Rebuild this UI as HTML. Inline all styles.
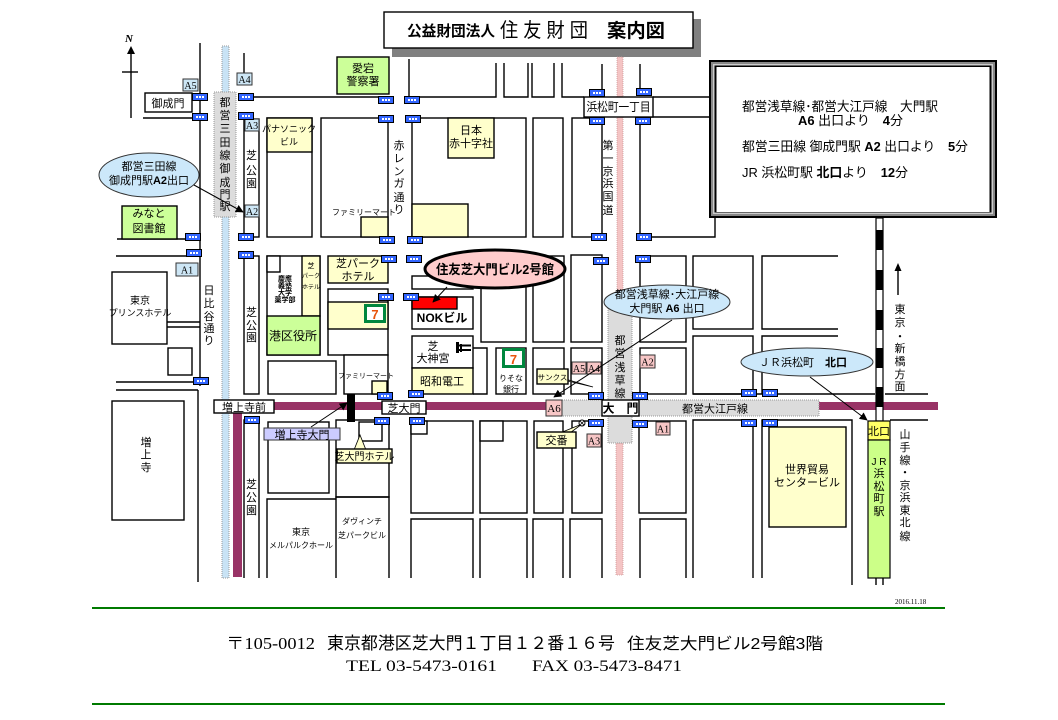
<!DOCTYPE html>
<html><head><meta charset="utf-8"><style>
html,body{margin:0;padding:0;background:#fff;}
svg{display:block;}
text{font-family:"Liberation Sans","Noto Sans CJK JP",sans-serif;fill:#000;}
.s{font-family:"Liberation Serif","Noto Serif CJK SC",serif;}
.b{fill:#fff;stroke:#000;stroke-width:1.4;}
.y{fill:#ffffcc;stroke:#000;stroke-width:1.4;}
.g{fill:#ccff99;stroke:#000;stroke-width:1.4;}
.l{stroke:#000;stroke-width:1.4;fill:none;}
.am{fill:#cde6f5;stroke:#333;stroke-width:1;}
.aa{fill:#f7c6c6;stroke:#333;stroke-width:1;}
</style></head><body>
<svg width="1058" height="720" viewBox="0 0 1058 720" xmlns="http://www.w3.org/2000/svg">
<defs>
<marker id="ah" viewBox="0 0 10 10" refX="9" refY="5" markerWidth="8" markerHeight="8" orient="auto" markerUnits="userSpaceOnUse"><path d="M0,0 L10,5 L0,10 z" fill="#000"/></marker>
<g id="bs"><rect x="0.5" y="0.5" width="15" height="7" fill="#3366ff" stroke="#000" stroke-width="1"/><rect x="4" y="3" width="2" height="2" fill="#fff"/><rect x="7" y="3" width="2" height="2" fill="#fff"/><rect x="10" y="3" width="2" height="2" fill="#fff"/></g>
</defs>

<!-- Title -->
<rect x="392" y="19" width="309" height="38" fill="#808080"/>
<rect x="384" y="12" width="309" height="36" fill="#fff" stroke="#000" stroke-width="1.4"/>
<text x="407" y="36" font-size="15" font-weight="bold" textLength="88" lengthAdjust="spacingAndGlyphs">公益財団法人</text>
<text x="500" y="37" font-size="20" textLength="88" lengthAdjust="spacingAndGlyphs">住 友 財 団</text>
<text x="607" y="37" font-size="19" font-weight="bold" textLength="58" lengthAdjust="spacingAndGlyphs">案内図</text>

<!-- N arrow -->
<text x="129" y="42" font-size="11" font-style="italic" font-weight="bold" class="s" text-anchor="middle">N</text>
<path d="M131,46 L127,54 L135,54 z" fill="#000"/>
<line x1="131" y1="53" x2="131" y2="118" class="l"/>
<line x1="122" y1="72" x2="138" y2="72" class="l"/>

<!-- rail bands -->
<rect x="222" y="46" width="7" height="532" fill="#c9e3f5" stroke="#999" stroke-width="1" stroke-dasharray="1,1"/>
<rect x="617" y="57" width="6" height="246" fill="#f4c4c4" stroke="#c99" stroke-width="0.8" stroke-dasharray="1,1"/>
<rect x="616" y="443" width="7" height="132" fill="#f4c4c4" stroke="#c99" stroke-width="0.8" stroke-dasharray="1,1"/>

<!-- left roads -->
<line x1="200" y1="43" x2="200" y2="386" class="l"/>
<line x1="198" y1="390" x2="198" y2="582" class="l"/>
<line x1="244" y1="53" x2="244" y2="74" class="l"/>
<line x1="143" y1="118" x2="193" y2="118" class="l"/>
<line x1="117" y1="239" x2="187" y2="239" class="l"/>
<line x1="116" y1="256" x2="187" y2="256" class="l"/>
<line x1="167" y1="322" x2="200" y2="322" class="l"/>
<line x1="167" y1="327" x2="200" y2="327" class="l"/>
<rect x="168" y="348" width="24" height="27" class="b"/>
<line x1="116" y1="382" x2="193" y2="382" class="l"/>
<line x1="116" y1="390" x2="198" y2="390" class="l"/>
<rect x="112" y="272" width="55" height="72" class="b"/>
<rect x="112" y="401" width="72" height="119" class="b"/>
<rect x="145" y="93" width="47" height="19" class="b"/>
<rect x="122" y="206" width="55" height="33" class="g"/>

<!-- top roads -->
<line x1="252" y1="97" x2="383" y2="97" class="l"/>
<rect x="337" y="57" width="52" height="37" class="g"/>
<polyline points="409,59 409,97 496,97 496,63" class="l"/>
<polyline points="504,63 504,97 528,97 528,63" class="l"/>
<polyline points="532,63 532,97 554,97 554,63" class="l"/>
<polyline points="562,63 562,97 584,97" class="l"/>
<line x1="602" y1="64" x2="602" y2="89" class="l"/>
<line x1="640" y1="64" x2="640" y2="88" class="l"/>
<line x1="653" y1="97" x2="709" y2="97" class="l"/>
<polyline points="709,117 640,117 640,237 715,237 715,217" class="l"/>

<!-- blocks row 1 -->
<rect x="244" y="119" width="15" height="118" class="b"/>
<rect x="267" y="118" width="45" height="119" class="b"/>
<rect x="267" y="118" width="45" height="34" class="y"/>
<rect x="321" y="118" width="67" height="119" class="b"/>
<rect x="361" y="217" width="27" height="20" class="y"/>
<rect x="412" y="118" width="114" height="119" class="b"/>
<rect x="448" y="118" width="46" height="40" class="y"/>
<rect x="412" y="204" width="56" height="33" class="y"/>
<rect x="533" y="118" width="30" height="119" class="b"/>
<rect x="572" y="118" width="30" height="119" class="b"/>

<!-- Mita station -->
<rect x="214" y="92" width="22" height="125" fill="#dcdcdc" stroke="#999" stroke-width="1" stroke-dasharray="1,1"/>

<!-- blocks row 2 -->
<rect x="244" y="256" width="15" height="138" class="b"/>
<rect x="267" y="256" width="53" height="99" class="b"/>
<rect x="267" y="256" width="13" height="16" class="b"/>
<rect x="302" y="256" width="18" height="60" class="y"/>
<rect x="267" y="316" width="53" height="39" class="g"/>
<rect x="328" y="256" width="60" height="27" class="y"/>
<rect x="328" y="289" width="60" height="66" class="b"/>
<rect x="328" y="302" width="60" height="27" class="y"/>
<rect x="268" y="361" width="68" height="33" class="b"/>
<rect x="344" y="355" width="44" height="39" class="b"/>
<rect x="372" y="381" width="15" height="13" class="y"/>
<rect x="412" y="276" width="61" height="13" class="b"/>
<rect x="412" y="297" width="61" height="32" class="b"/>
<rect x="412" y="297" width="45" height="12" fill="#ff0000" stroke="#000" stroke-width="1.4"/>
<rect x="412" y="336" width="61" height="32" class="b"/>
<rect x="412" y="368" width="61" height="26" class="y"/>
<polyline points="473,348 487,348 487,394 473,394" class="l"/>
<rect x="481" y="256" width="45" height="86" class="b"/>
<rect x="496" y="348" width="30" height="46" class="b"/>
<rect x="533" y="256" width="31" height="86" class="b"/>
<rect x="533" y="348" width="31" height="46" class="b"/>
<rect x="571" y="255" width="31" height="87" class="b"/>
<rect x="571" y="348" width="31" height="46" class="b"/>
<rect x="640" y="256" width="46" height="86" class="b"/>
<rect x="640" y="348" width="46" height="46" class="b"/>
<rect x="693" y="256" width="60" height="73" class="b"/>
<rect x="693" y="336" width="60" height="58" class="b"/>
<polyline points="838,256 762,256 762,329 838,329" class="l"/>
<polyline points="838,336 762,336 762,394" class="l"/>
<line x1="693" y1="394" x2="875" y2="394" class="l"/>
<line x1="885" y1="394" x2="928" y2="394" class="l"/>

<!-- bottom blocks -->
<polyline points="244,578 244,420 259,420 259,578" class="l"/>
<rect x="268" y="422" width="61" height="71" class="b"/>
<rect x="336" y="420" width="53" height="77" class="b"/>
<rect x="359" y="422" width="23" height="19" class="b"/>
<polyline points="336,578 336,497 389,497 389,578" class="l"/>
<polyline points="267,578 267,499 336,499" class="l"/>
<rect x="411" y="421" width="62" height="92" class="b"/>
<rect x="411" y="421" width="16" height="13" class="b"/>
<rect x="480" y="421" width="47" height="92" class="b"/>
<rect x="480" y="421" width="23" height="20" class="b"/>
<rect x="534" y="421" width="29" height="92" class="b"/>
<rect x="572" y="421" width="30" height="92" class="b"/>
<rect x="639" y="421" width="47" height="92" class="b"/>
<polyline points="411,578 411,519 473,519 473,578" class="l"/>
<polyline points="480,578 480,519 527,519 527,578" class="l"/>
<polyline points="533,578 533,519 563,519 563,578" class="l"/>
<polyline points="570,578 570,519 602,519 602,578" class="l"/>
<polyline points="640,578 640,519 686,519 686,578" class="l"/>
<polyline points="693,578 693,420 753,420 753,578" class="l"/>
<polyline points="762,578 762,420 852,420 852,585" class="l"/>
<rect x="769" y="427" width="77" height="100" class="y"/>
<line x1="890" y1="420" x2="928" y2="420" class="l"/>

<!-- magenta / gray lines -->
<rect x="233" y="402" width="9" height="175" fill="#993366"/>
<rect x="233" y="402" width="705" height="8" fill="#993366"/>
<rect x="546" y="400" width="273" height="16" fill="#dcdcdc" stroke="#999" stroke-width="1" stroke-dasharray="1,1"/>
<rect x="608" y="303" width="24" height="140" fill="#dcdcdc" stroke="#999" stroke-width="1" stroke-dasharray="1,1"/>
<rect x="347" y="394" width="8" height="28" fill="#000"/>

<!-- JR rail -->
<rect x="876" y="218" width="7" height="203" fill="#fff" stroke="#000" stroke-width="1.2"/>
<rect x="876" y="230" width="7" height="20" fill="#000"/>
<rect x="876" y="270" width="7" height="20" fill="#000"/>
<rect x="876" y="310" width="7" height="20" fill="#000"/>
<rect x="876" y="348" width="7" height="20" fill="#000"/>
<rect x="876" y="387" width="7" height="20" fill="#000"/>
<rect x="868" y="421" width="22" height="19" fill="#ffff66" stroke="#000" stroke-width="1.2"/>
<rect x="868" y="440" width="22" height="138" fill="#ccff88" stroke="#000" stroke-width="1.2"/>
<line x1="876" y1="578" x2="876" y2="585" class="l"/>
<line x1="883" y1="578" x2="883" y2="585" class="l"/>

<!-- info box -->
<rect x="709" y="60" width="288" height="158" fill="#000"/>
<rect x="711" y="62" width="284" height="154" fill="#888"/>
<rect x="713" y="64" width="280" height="150" fill="#ccc"/>
<rect x="714.5" y="65.5" width="277" height="147" fill="#000"/>
<rect x="716.5" y="67" width="273" height="145" fill="#fff"/>
<text x="742" y="111" font-size="13" textLength="196" lengthAdjust="spacingAndGlyphs">都営浅草線･都営大江戸線　大門駅</text>
<text x="798" y="125" font-size="13" textLength="105" lengthAdjust="spacingAndGlyphs"><tspan font-weight="bold">A6</tspan> 出口より　<tspan font-weight="bold">4</tspan>分</text>
<text x="742" y="151" font-size="13" textLength="226" lengthAdjust="spacingAndGlyphs">都営三田線 御成門駅 <tspan font-weight="bold">A2</tspan> 出口より　<tspan font-weight="bold">5</tspan>分</text>
<text x="742" y="177" font-size="13" textLength="166" lengthAdjust="spacingAndGlyphs">JR 浜松町駅 <tspan font-weight="bold">北口</tspan>より　<tspan font-weight="bold">12</tspan>分</text>

<!-- arrow up right -->
<line x1="898" y1="269" x2="898" y2="295" class="l"/>
<path d="M898,263 L894.5,271 L901.5,271 z" fill="#000"/>

<!-- labels on roads -->
<rect x="584" y="97" width="69" height="20" class="b"/>
<text x="618.5" y="111" font-size="12" text-anchor="middle" textLength="64" lengthAdjust="spacingAndGlyphs">浜松町一丁目</text>
<rect x="214" y="400" width="60" height="13" class="b"/>
<text x="244" y="411" font-size="11" text-anchor="middle">増上寺前</text>
<rect x="382" y="401" width="44" height="13" class="b"/>
<text x="404" y="412" font-size="11" text-anchor="middle">芝大門</text>
<rect x="264" y="428" width="76" height="12" fill="#ccccff" stroke="#333" stroke-width="1"/>
<text x="302" y="438.5" font-size="11" text-anchor="middle">増上寺大門</text>
<rect x="546" y="400" width="16" height="16" class="aa"/>
<text x="554" y="412" font-size="11" class="s" text-anchor="middle">A6</text>
<rect x="602" y="400" width="37" height="16" class="b"/>
<text x="620.5" y="412.5" font-size="12" font-weight="bold" text-anchor="middle">大　門</text>
<text x="682" y="412.5" font-size="11" textLength="66" lengthAdjust="spacingAndGlyphs">都営大江戸線</text>
<rect x="572" y="362" width="14" height="12" class="aa"/>
<text x="579" y="372" font-size="10" class="s" text-anchor="middle">A5</text>
<rect x="587" y="362" width="14" height="12" class="aa"/>
<text x="594" y="372" font-size="10" class="s" text-anchor="middle">A4</text>
<rect x="640" y="355" width="15" height="13" class="aa"/>
<text x="647.5" y="365.5" font-size="10" class="s" text-anchor="middle">A2</text>
<rect x="656" y="422" width="14" height="13" class="aa"/>
<text x="663" y="432.5" font-size="10" class="s" text-anchor="middle">A1</text>
<rect x="587" y="434" width="14" height="13" class="aa"/>
<text x="594" y="444.5" font-size="10" class="s" text-anchor="middle">A3</text>
<rect x="183" y="79" width="15" height="12" class="am"/>
<text x="190.5" y="89" font-size="10" class="s" text-anchor="middle">A5</text>
<rect x="237" y="73" width="15" height="12" class="am"/>
<text x="244.5" y="83" font-size="10" class="s" text-anchor="middle">A4</text>
<rect x="245" y="119" width="14" height="12" class="am"/>
<text x="252" y="129" font-size="10" class="s" text-anchor="middle">A3</text>
<rect x="245" y="205" width="14" height="12" class="am"/>
<text x="252" y="215" font-size="10" class="s" text-anchor="middle">A2</text>
<rect x="176" y="263" width="22" height="13" class="am"/>
<text x="187" y="273.5" font-size="10" class="s" text-anchor="middle">A1</text>

<!-- callouts -->
<polygon points="558,377 568,381 593,387" fill="#ffffcc" stroke="#000" stroke-width="0.8"/>
<rect x="537" y="369" width="31" height="15" class="y" stroke-width="1"/>
<text x="552.5" y="380" font-size="7.5" text-anchor="middle">サンクス</text>
<polygon points="560,433 570,433 582,424" fill="#ffffcc" stroke="#000" stroke-width="0.8"/>
<rect x="537" y="432" width="39" height="16" class="y" stroke-width="1"/>
<text x="556.5" y="444" font-size="11" text-anchor="middle">交番</text>
<circle cx="582" cy="423" r="3" fill="#fff" stroke="#000" stroke-width="1"/>
<path d="M580,421 L584,425 M584,421 L580,425" stroke="#000" stroke-width="0.8"/>
<polygon points="354,450 366,450 360,435" fill="#ffffcc" stroke="#000" stroke-width="0.8"/>
<rect x="337" y="449" width="55" height="14" class="y" stroke-width="1"/>
<text x="364.5" y="460" font-size="10" text-anchor="middle">芝大門ホテル</text>

<!-- bus stops -->
<use href="#bs" x="192" y="93"/><use href="#bs" x="238" y="93"/><use href="#bs" x="192" y="113"/><use href="#bs" x="238" y="112"/>
<use href="#bs" x="378" y="96"/><use href="#bs" x="404" y="96"/><use href="#bs" x="378" y="115"/><use href="#bs" x="405" y="115"/>
<use href="#bs" x="589" y="89"/><use href="#bs" x="636" y="88"/><use href="#bs" x="589" y="117"/><use href="#bs" x="635" y="117"/>
<use href="#bs" x="185" y="233"/><use href="#bs" x="238" y="233"/><use href="#bs" x="379" y="236"/><use href="#bs" x="407" y="236"/>
<use href="#bs" x="591" y="233"/><use href="#bs" x="636" y="233"/>
<use href="#bs" x="186" y="249"/><use href="#bs" x="238" y="251"/><use href="#bs" x="381" y="255"/><use href="#bs" x="406" y="255"/>
<use href="#bs" x="378" y="293"/><use href="#bs" x="403" y="293"/><use href="#bs" x="593" y="257"/><use href="#bs" x="635" y="255"/>
<use href="#bs" x="193" y="377"/><use href="#bs" x="377" y="392"/><use href="#bs" x="408" y="390"/><use href="#bs" x="588" y="392"/>
<use href="#bs" x="632" y="392"/><use href="#bs" x="741" y="389"/><use href="#bs" x="762" y="389"/>
<use href="#bs" x="244" y="416"/><use href="#bs" x="374" y="417"/><use href="#bs" x="409" y="417"/><use href="#bs" x="588" y="419"/>
<use href="#bs" x="632" y="420"/><use href="#bs" x="741" y="419"/><use href="#bs" x="762" y="419"/>

<!-- 7-11 logos -->
<rect x="364" y="304" width="22" height="19" fill="#00873e"/>
<rect x="367" y="307" width="16" height="13" fill="#fff"/>
<text x="375" y="319" font-size="13" font-weight="bold" text-anchor="middle" style="fill:#e8540c">7</text>
<rect x="502" y="348" width="23" height="20" fill="#00873e"/>
<rect x="505" y="351" width="17" height="14" fill="#fff"/>
<text x="513.5" y="364" font-size="13" font-weight="bold" text-anchor="middle" style="fill:#e8540c">7</text>

<!-- torii -->
<rect x="456" y="342" width="3" height="11" fill="#000"/>
<rect x="460" y="344" width="2" height="8" fill="#000"/>
<rect x="456" y="344.5" width="15" height="2" fill="#000"/>
<rect x="456" y="349" width="15" height="2" fill="#000"/>

<!-- bubbles -->
<ellipse cx="149" cy="175" rx="50" ry="22" fill="#cce8fa" stroke="#333" stroke-width="1"/>
<text x="149" y="170" font-size="11" text-anchor="middle">都営三田線</text>
<text x="149" y="184" font-size="11" text-anchor="middle">御成門駅<tspan font-weight="bold">A2</tspan>出口</text>
<line x1="194" y1="185" x2="243" y2="212" stroke="#000" stroke-width="1" marker-end="url(#ah)"/>

<ellipse cx="495" cy="269" rx="70" ry="19" fill="#ffcccc" stroke="#000" stroke-width="3"/>
<text x="495" y="274" font-size="13" font-weight="bold" text-anchor="middle" textLength="118" lengthAdjust="spacingAndGlyphs">住友芝大門ビル2号館</text>
<line x1="447" y1="287" x2="433" y2="302" stroke="#000" stroke-width="1" marker-end="url(#ah)"/>

<ellipse cx="667" cy="302" rx="63" ry="17" fill="#cce8fa" stroke="#333" stroke-width="1"/>
<text x="667" y="298" font-size="11" text-anchor="middle">都営浅草線･大江戸線</text>
<text x="667" y="312" font-size="11" text-anchor="middle">大門駅 <tspan font-weight="bold">A6</tspan> 出口</text>
<line x1="672" y1="320" x2="554" y2="397" stroke="#000" stroke-width="1" marker-end="url(#ah)"/>

<ellipse cx="807" cy="362" rx="66" ry="14" fill="#cce8fa" stroke="#333" stroke-width="1"/>
<text x="803" y="366" font-size="11" text-anchor="middle">ＪＲ浜松町　<tspan font-weight="bold">北口</tspan></text>
<line x1="810" y1="377" x2="867" y2="420" stroke="#000" stroke-width="1" marker-end="url(#ah)"/>

<line x1="311" y1="427" x2="347" y2="403" stroke="#000" stroke-width="1" marker-end="url(#ah)"/>

<!-- labels text -->
<text x="168" y="107" font-size="11" text-anchor="middle">御成門</text>
<text x="149" y="217" font-size="11" text-anchor="middle">みなと</text>
<text x="149" y="232" font-size="11" text-anchor="middle">図書館</text>
<text x="363" y="72" font-size="11" text-anchor="middle">愛宕</text>
<text x="363" y="85" font-size="11" text-anchor="middle">警察署</text>
<text x="289" y="132" font-size="9" text-anchor="middle">パナソニック</text>
<text x="289" y="145" font-size="9" text-anchor="middle">ビル</text>
<text x="364" y="215" font-size="8" text-anchor="middle">ファミリーマート</text>
<text x="471" y="134" font-size="11" text-anchor="middle">日本</text>
<text x="471" y="147" font-size="11" text-anchor="middle">赤十字社</text>
<text x="140" y="304" font-size="10" text-anchor="middle">東京</text>
<text x="140" y="316" font-size="9" text-anchor="middle">プリンスホテル</text>
<text x="285" y="281" font-size="7" font-weight="bold" text-anchor="middle">慶應</text>
<text x="285" y="288" font-size="7" font-weight="bold" text-anchor="middle">義塾</text>
<text x="285" y="295" font-size="7" font-weight="bold" text-anchor="middle">大学</text>
<text x="285" y="302" font-size="7" font-weight="bold" text-anchor="middle">薬学部</text>
<text x="311" y="268" font-size="7" text-anchor="middle">芝</text>
<text x="311" y="278" font-size="6" text-anchor="middle">パーク</text>
<text x="311" y="289" font-size="6" text-anchor="middle">ホテル</text>
<text x="293" y="340" font-size="12" text-anchor="middle">港区役所</text>
<text x="358" y="267" font-size="11" text-anchor="middle">芝パーク</text>
<text x="358" y="280" font-size="11" text-anchor="middle">ホテル</text>
<text x="366" y="378" font-size="7" text-anchor="middle">ファミリーマート</text>
<text x="442" y="322" font-size="12" font-weight="bold" text-anchor="middle">NOKビル</text>
<text x="433" y="350" font-size="11" text-anchor="middle">芝</text>
<text x="433" y="362" font-size="11" text-anchor="middle">大神宮</text>
<text x="442" y="385" font-size="11" text-anchor="middle">昭和電工</text>
<text x="511" y="381" font-size="8" text-anchor="middle">りそな</text>
<text x="511" y="392" font-size="8" text-anchor="middle">銀行</text>
<text x="807" y="473" font-size="11" text-anchor="middle">世界貿易</text>
<text x="807" y="486" font-size="11" text-anchor="middle">センタービル</text>
<text x="879" y="435" font-size="11" text-anchor="middle">北口</text>
<text x="301" y="535" font-size="9" text-anchor="middle">東京</text>
<text x="301" y="548" font-size="8" text-anchor="middle">メルパルクホール</text>
<text x="362" y="524" font-size="8" text-anchor="middle">ダヴィンチ</text>
<text x="362" y="538" font-size="8" text-anchor="middle">芝パークビル</text>

<!-- vertical texts -->
<text font-size="11" text-anchor="middle"><tspan x="225" y="106">都</tspan><tspan x="225" y="119">営</tspan><tspan x="225" y="132">三</tspan><tspan x="225" y="146">田</tspan><tspan x="225" y="159">線</tspan><tspan x="225" y="172">御</tspan><tspan x="225" y="186">成</tspan><tspan x="225" y="198">門</tspan><tspan x="225" y="210">駅</tspan></text>
<text font-size="11" text-anchor="middle"><tspan x="251.5" y="159">芝</tspan><tspan x="251.5" y="174">公</tspan><tspan x="251.5" y="187">園</tspan></text>
<text font-size="11" text-anchor="middle"><tspan x="399" y="149">赤</tspan><tspan x="399" y="162">レ</tspan><tspan x="399" y="175">ン</tspan><tspan x="399" y="187">ガ</tspan><tspan x="399" y="201">通</tspan><tspan x="399" y="213">り</tspan></text>
<text font-size="11" text-anchor="middle"><tspan x="608" y="149">第</tspan><tspan x="608" y="162">一</tspan><tspan x="608" y="175">京</tspan><tspan x="608" y="187">浜</tspan><tspan x="608" y="200">国</tspan><tspan x="608" y="214">道</tspan></text>
<text font-size="11" text-anchor="middle"><tspan x="209" y="294">日</tspan><tspan x="209" y="307">比</tspan><tspan x="209" y="320">谷</tspan><tspan x="209" y="332">通</tspan><tspan x="209" y="344">り</tspan></text>
<text font-size="11" text-anchor="middle"><tspan x="251.5" y="316">芝</tspan><tspan x="251.5" y="329">公</tspan><tspan x="251.5" y="341">園</tspan></text>
<text font-size="11" text-anchor="middle"><tspan x="620" y="344">都</tspan><tspan x="620" y="357">営</tspan><tspan x="620" y="371">浅</tspan><tspan x="620" y="384">草</tspan><tspan x="620" y="397">線</tspan></text>
<text font-size="11" text-anchor="middle"><tspan x="900" y="313">東</tspan><tspan x="900" y="326">京</tspan><tspan x="900" y="340">・</tspan><tspan x="900" y="352">新</tspan><tspan x="900" y="365">橋</tspan><tspan x="900" y="378">方</tspan><tspan x="900" y="390">面</tspan></text>
<text font-size="10" text-anchor="middle"><tspan x="879" y="465">J R</tspan></text>
<text font-size="11" text-anchor="middle"><tspan x="879" y="477">浜</tspan><tspan x="879" y="490">松</tspan><tspan x="879" y="502">町</tspan><tspan x="879" y="515">駅</tspan></text>
<text font-size="11" text-anchor="middle"><tspan x="905" y="438">山</tspan><tspan x="905" y="451">手</tspan><tspan x="905" y="464">線</tspan><tspan x="905" y="476">・</tspan><tspan x="905" y="489">京</tspan><tspan x="905" y="501">浜</tspan><tspan x="905" y="514">東</tspan><tspan x="905" y="526">北</tspan><tspan x="905" y="540">線</tspan></text>
<text font-size="11" text-anchor="middle"><tspan x="146" y="446">増</tspan><tspan x="146" y="458">上</tspan><tspan x="146" y="471">寺</tspan></text>
<text font-size="11" text-anchor="middle"><tspan x="251.5" y="488">芝</tspan><tspan x="251.5" y="501">公</tspan><tspan x="251.5" y="514">園</tspan></text>

<!-- footer -->
<text x="895" y="604" font-size="7" class="s">2016.11.18</text>
<line x1="92" y1="608" x2="945" y2="608" stroke="#007a00" stroke-width="2"/>
<line x1="92" y1="704" x2="945" y2="704" stroke="#007a00" stroke-width="2"/>
<text x="226" y="649" font-size="17" class="s" textLength="89" lengthAdjust="spacingAndGlyphs">〒105-0012</text>
<text x="327" y="649" font-size="17" textLength="288" lengthAdjust="spacingAndGlyphs">東京都港区芝大門１丁目１２番１６号</text>
<text x="627" y="649" font-size="16" textLength="196" lengthAdjust="spacingAndGlyphs">住友芝大門ビル2号館3階</text>
<text x="346" y="671" font-size="16" class="s" textLength="151" lengthAdjust="spacingAndGlyphs">TEL  03-5473-0161</text>
<text x="532" y="671" font-size="16" class="s" textLength="150" lengthAdjust="spacingAndGlyphs">FAX  03-5473-8471</text>
</svg>
</body></html>
